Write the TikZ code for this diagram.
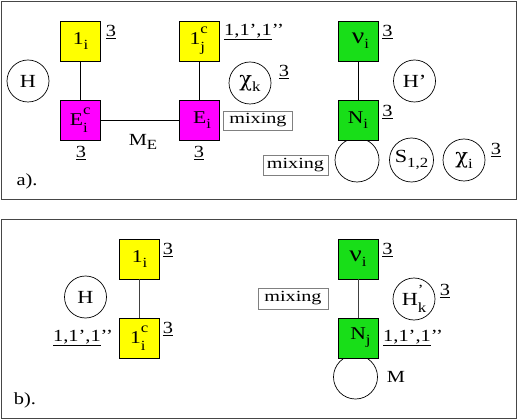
\documentclass[tikz,border=0pt]{standalone}
\usepackage{fontspec}
\setmainfont{Liberation Serif}[FakeStretch=1.2]
\newfontfamily\mixfont{Liberation Serif}[FakeStretch=1.3]
\newfontfamily\grkfont{DejaVu Serif}
\definecolor{grn}{RGB}{24,222,24}
\definecolor{yel}{RGB}{255,255,0}
\definecolor{mgt}{RGB}{255,0,255}
\definecolor{framec}{RGB}{70,70,70}
\newcommand{\subsz}{\fontsize{14}{14}\selectfont}
\newcommand{\mysb}[1]{\raisebox{-0.6ex}{\subsz #1}}
\newcommand{\mysupsub}[2]{\makebox[0.45em][l]{\rlap{\raisebox{1.35ex}{\subsz #1}}\raisebox{-0.85ex}{\subsz #2}}}
\newcommand{\gk}[1]{{\grkfont\fontsize{21}{21}\selectfont #1}}
\newcommand{\gknu}[1]{{\fontsize{23}{23}\selectfont #1}}
\tikzset{
  lbox/.style={draw, line width=0.7pt, minimum size=40pt, inner sep=0pt, font=\fontsize{18}{18}\selectfont},
  yelbox/.style={lbox, fill=yel},
  mag/.style={lbox, fill=mgt},
  grnbox/.style={lbox, fill=grn},
  circ/.style={circle, draw, line width=0.7pt, minimum size=42pt, inner sep=0pt, font=\fontsize{18.5}{18.5}\selectfont},
  loopc/.style={circle, draw, line width=0.7pt, minimum size=44pt, inner sep=0pt},
  lab/.style={inner sep=0pt, font=\fontsize{17}{17}\selectfont},
  mixbox/.style={draw=gray, line width=0.6pt, minimum height=19pt, inner sep=0pt, font=\mixfont\fontsize{15.5}{15.5}\selectfont},
  frm/.style={draw=framec, line width=0.9pt},
  conn/.style={line width=0.7pt},
}
\begin{document}
\begin{tikzpicture}[x=1pt,y=-1pt]
\useasboundingbox (0,0) rectangle (518,419);
\fill[white] (0,0) rectangle (518,419);
% frames
\draw[frm] (1,1) rectangle (516,199);
\draw[frm] (1,219) rectangle (516,418);

% ---------------- panel a ----------------
\node[loopc] (loopa) at (357,160) {};
\node[yelbox] (la) at (80.5,41) {1\mysb{i}};
\node[yelbox] (lca) at (199,41) {1\mysupsub{c}{j}};
\node[mag] (Eca) at (80.5,120) {E\mysupsub{c}{i}};
\node[mag] (Ea) at (199,120) {\hspace{6pt}E\mysb{i}};
\node[grnbox] (nua) at (358,41) {\hspace{5pt}\gknu{ν}\mysb{i}};
\node[grnbox] (Na) at (358,120) {N\mysb{i}};
\draw[conn] (la) -- (Eca);
\draw[conn] (lca) -- (Ea);
\draw[conn] (Eca) -- (Ea);
\draw[conn] (nua) -- (Na);

\node[circ] (Ha) at (28,81) {H};
\node[circ] (chik) at (250,83) {\gk{χ}\mysb{k}};
\node[circ] (Hpa) at (414.5,81) {H’};
\node[circ, minimum size=44pt] (S12) at (411.5,160) {S\mysb{1,2}};
\node[circ] (chii) at (464,160) {\gk{χ}\mysb{i}};

\node[lab] (t1) at (111,32) {\underline{3}};
\node[lab, anchor=west] (t2) at (224,32) {\underline{1,1’,1}’’};
\node[lab] (t3) at (81,153) {\underline{3}};
\node[lab] (t4) at (199,153) {\underline{3}};
\node[lab] (t5) at (284,72) {\underline{3}};
\node[lab] (t6) at (387.5,32) {\underline{3}};
\node[lab] (t7) at (387.5,112) {\underline{3}};
\node[lab] (t8) at (496,150) {\underline{3}};
\node[lab] (ME) at (143,142) {M\mysb{E}};
\node[lab] (alab) at (27,181) {a).};
\node[mixbox, minimum width=69pt] (mix1) at (258,120.5) {mixing};
\node[mixbox, minimum width=65pt, minimum height=20pt] (mix2) at (295.5,165) {mixing};

% ---------------- panel b ----------------
\node[loopc] (loopb) at (355.5,377) {};
\node[yelbox] (lb) at (139.5,259) {1\mysb{i}};
\node[yelbox] (lcb) at (139.5,338) {1\mysupsub{c}{i}};
\node[grnbox] (nub) at (358,259) {\gknu{ν}\mysb{i}};
\node[grnbox] (Nb) at (358,338) {\hspace{5pt}N\mysb{j}};
\draw[conn, draw=black!75] (lb) -- (lcb);
\draw[conn, draw=black!75] (nub) -- (Nb);

\node[circ] (Hb) at (85.5,297) {H};
\node[circ] (Hpk) at (414,299) {H\mysupsub{’}{k}};

\node[lab] (u1) at (168,250) {\underline{3}};
\node[lab] (u2) at (168,329) {\underline{3}};
\node[lab] (u3) at (387.5,250) {\underline{3}};
\node[lab] (u4) at (445,291) {\underline{3}};
\node[lab, anchor=east] (u5) at (113,338) {\underline{1,1’,1}’’};
\node[lab, anchor=west] (u6) at (383,338) {\underline{1,1’,1}’’};
\node[lab] (Mlab) at (396,377) {M};
\node[lab] (blab) at (25,400) {b).};
\node[mixbox, minimum width=70pt, minimum height=21pt] (mix3) at (293,298.5) {mixing};
\end{tikzpicture}
\end{document}
